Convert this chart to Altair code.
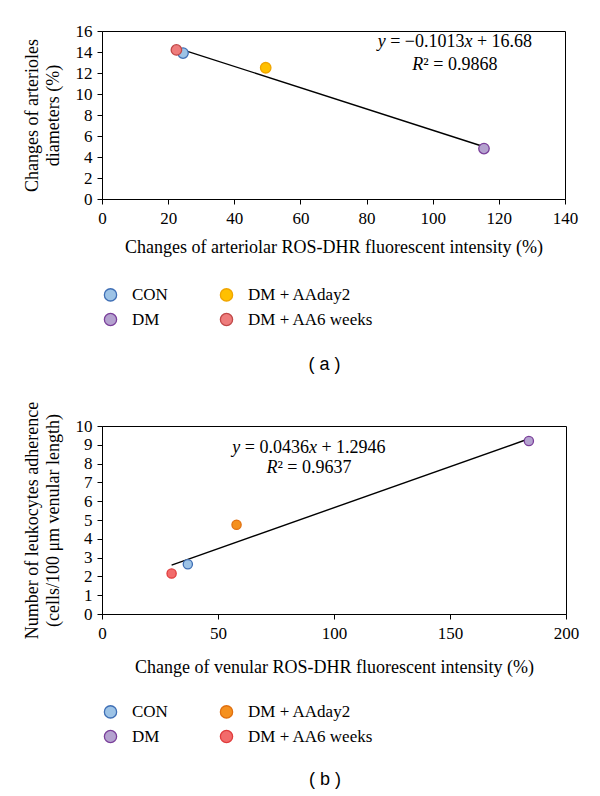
import altair as alt
import pandas as pd

groups = ["CON", "DM + AAday2", "DM", "DM + AA6 weeks"]

# Panel (a)
a_x = [24.5, 49.5, 115.5, 22.5]
a_y = [13.9, 12.5, 4.8, 14.2]
a_fill = ["#9DC3E6", "#FFC000", "#B4A2CF", "#EE7C7C"]
a_stroke = ["#3F6FB5", "#F0A500", "#7A3F9A", "#C04848"]
a_line_x = [23, 116]
a_line_y = [14.35, 4.93]
a_xticks = [0, 20, 40, 60, 80, 100, 120, 140]
a_yticks = [0, 2, 4, 6, 8, 10, 12, 14, 16]
# (text, italic, space before)
a_eq = [("y", True, 0), ("= −0.1013", False, 1), ("x", True, 0), ("+ 16.68", False, 1)]
a_r2 = [("R", True, 0), ("² = 0.9868", False, 0)]

# Panel (b)
b_x = [37, 58, 184, 30]
b_y = [2.65, 4.75, 9.2, 2.15]
b_fill = ["#9DC3E6", "#F5901E", "#B4A2CF", "#F26B6B"]
b_stroke = ["#3F6FB5", "#E07010", "#7A3F9A", "#E03C3C"]
b_line_x = [30, 184]
b_line_y = [2.6, 9.32]
b_xticks = [0, 50, 100, 150, 200]
b_yticks = [0, 1, 2, 3, 4, 5, 6, 7, 8, 9, 10]
b_eq = [("y", True, 0), ("= 0.0436", False, 1), ("x", True, 0), ("+ 1.2946", False, 1)]
b_r2 = [("R", True, 0), ("² = 0.9637", False, 0)]

SERIF = "Liberation Serif"
EQ_FS = 18

# approximate advance widths (per 1000 em) for Liberation Serif
W = {" ": 250, "=": 564, "−": 564, "+": 564, ".": 250, "²": 300,
     "y": 444, "x": 444, "R": 611}


def seg_width(s):
    return sum(W.get(c, 500) for c in s) * EQ_FS / 1000.0


SP = 250 * EQ_FS / 1000.0


def text_line(pieces, xv, yv, X, Y):
    total = sum(seg_width(t) + SP * s for t, _, s in pieces)
    off = -total / 2.0
    layers = []
    for t, it, s in pieces:
        off += SP * s
        d = pd.DataFrame({"x": [xv], "y": [yv], "t": [t]})
        layers.append(alt.Chart(d).mark_text(
            font=SERIF, fontSize=EQ_FS, color="black", align="left",
            baseline="middle", fontStyle="italic" if it else "normal", dx=off
        ).encode(text="t:N", x=X, y=Y))
        off += seg_width(t)
    return layers


def panel(xs, ys, fills, strokes, lx, ly, xdom, xticks, ydom, yticks,
          xtitle, ytitle, eq, r2, eqx, eqy, r2y, tag, w, h, size, legy, xtp):
    pts = pd.DataFrame({"x": xs, "y": ys, "group": groups})
    line = pd.DataFrame({"x": lx, "y": ly})
    xsc = alt.Scale(domain=xdom, nice=False, zero=False)
    ysc = alt.Scale(domain=ydom, nice=False, zero=False)
    xax = alt.Axis(values=xticks, title=xtitle, grid=False, labelOverlap=False,
                   labelFlush=False, format="d", labelPadding=6, titlePadding=xtp)
    yax = alt.Axis(values=yticks, title=ytitle, grid=False, labelOverlap=False,
                   labelFlush=False, format="d", labelPadding=5, titlePadding=13,
                   titleLineHeight=21)
    X = alt.X("x:Q", scale=xsc, axis=xax)
    Y = alt.Y("y:Q", scale=ysc, axis=yax)
    leg = alt.Legend(title=None, orient="none", legendX=0, legendY=legy,
                     columns=2, direction="horizontal", symbolType="circle",
                     symbolSize=150, symbolStrokeWidth=1.3, labelFont=SERIF,
                     labelFontSize=17, labelColor="black", labelOffset=13,
                     columnPadding=49, rowPadding=6, symbolOpacity=1)
    line_l = alt.Chart(line).mark_line(color="black", strokeWidth=1.4).encode(x=X, y=Y)
    pts_l = alt.Chart(pts).mark_circle(size=size, opacity=1, strokeWidth=1.3).encode(
        x=X, y=Y,
        fill=alt.Fill("group:N", scale=alt.Scale(domain=groups, range=fills), legend=leg),
        stroke=alt.Stroke("group:N", scale=alt.Scale(domain=groups, range=strokes), legend=leg),
    )
    eq_layers = text_line(eq, eqx, eqy, X, Y) + text_line(r2, eqx, r2y, X, Y)
    tag_l = alt.Chart(pd.DataFrame({"t": [tag]})).mark_text(
        font="Liberation Sans", fontSize=18, color="black", align="center", baseline="middle"
    ).encode(text="t:N", x=alt.value(w / 2 - 9), y=alt.value(h + 166))
    return alt.layer(line_l, pts_l, *eq_layers, tag_l).properties(width=w, height=h)


pa = panel(a_x, a_y, a_fill, a_stroke, a_line_x, a_line_y, [0, 140], a_xticks,
           [0, 16], a_yticks,
           "Changes of arteriolar ROS-DHR fluorescent intensity (%)",
           ["Changes of arterioles", "diameters (%)"],
           a_eq, a_r2, 106.7, 14.95, 12.8,
           "( a )", 463, 168, 110, 168 + 87, 12)

pb = panel(b_x, b_y, b_fill, b_stroke, b_line_x, b_line_y, [0, 200], b_xticks,
           [0, 10], b_yticks,
           "Change of venular ROS-DHR fluorescent intensity (%)",
           ["Number of leukocytes adherence", "(cells/100 μm venular length)"],
           b_eq, b_r2, 89.2, 8.85, 7.75,
           "( b )", 464, 188, 85, 188 + 89, 17)

chart = alt.vconcat(pa, pb, spacing=25).resolve_scale(
    fill="independent", stroke="independent", x="independent", y="independent"
).resolve_legend(fill="independent", stroke="independent").properties(
    padding={"left": 14, "top": 13, "right": 5, "bottom": 2}, background="white"
).configure(
    view=alt.ViewConfig(stroke="black", strokeWidth=1),
    axis=alt.AxisConfig(
        domainColor="black", domainWidth=1, tickColor="black", tickSize=5,
        labelFont=SERIF, labelFontSize=17, labelColor="black",
        titleFont=SERIF, titleFontSize=18, titleFontWeight="normal", titleColor="black"),
    legend=alt.LegendConfig(labelFont=SERIF, labelFontSize=17, labelColor="black"),
    style={"guide-label": {"font": SERIF, "fill": "black"}},
)

chart.save("out.html", embed_options={"renderer": "svg", "actions": False})
